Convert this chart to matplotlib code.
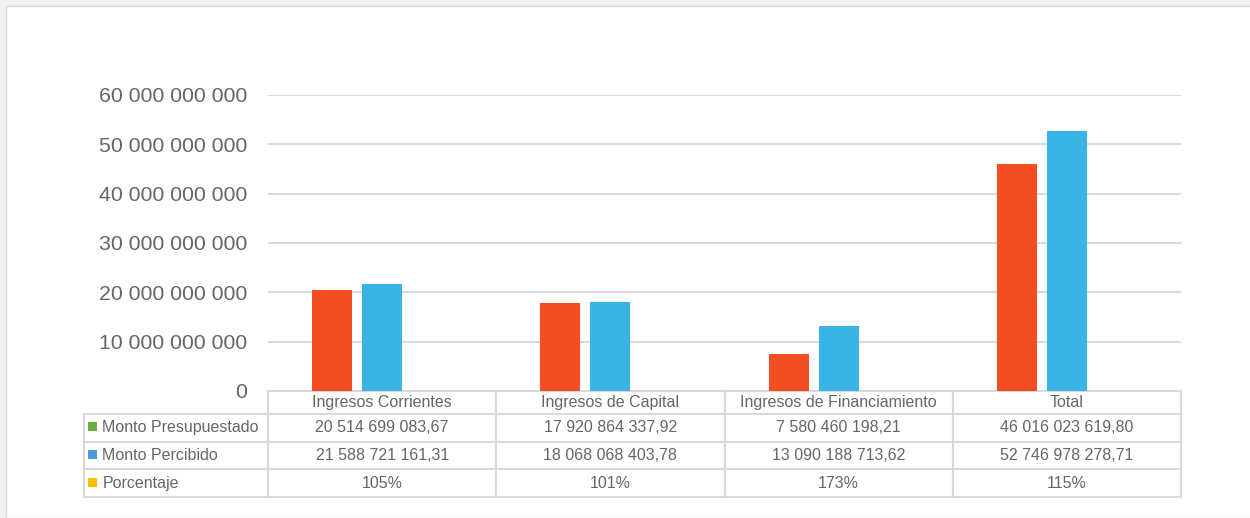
import numpy as np
import matplotlib.pyplot as plt
from matplotlib.patches import Rectangle

plt.rcParams['font.family'] = ['Liberation Sans', 'DejaVu Sans']

categorias = ['Ingresos Corrientes', 'Ingresos de Capital',
              'Ingresos de Financiamiento', 'Total']
presupuestado = [20514699083.67, 17920864337.92, 7580460198.21, 46016023619.80]
percibido = [21588721161.31, 18068068403.78, 13090188713.62, 52746978278.71]
porcentaje = [1.05, 1.01, 1.73, 1.15]

txt_presup = ['20 514 699 083,67', '17 920 864 337,92', '7 580 460 198,21', '46 016 023 619,80']
txt_percib = ['21 588 721 161,31', '18 068 068 403,78', '13 090 188 713,62', '52 746 978 278,71']
txt_porc = ['105%', '101%', '173%', '115%']
filas = ['Monto Presupuestado', 'Monto Percibido', 'Porcentaje']
colores_leyenda = ['#6BAE3F', '#4C9BDB', '#FFC000']

gris = '#666666'
borde = '#D9D9D9'

fig = plt.figure(figsize=(12.5, 5.18), dpi=100, facecolor='#F2F1F1')
fig.patches.append(Rectangle((6 / 1250, 0), 1, 1 - 6 / 518, transform=fig.transFigure,
                             facecolor='white', edgecolor='#DCDCDC', lw=1, zorder=-5))

ax = fig.add_axes([268 / 1250, 1 - 391 / 518, 913 / 1250, 296 / 518])
ax.set_facecolor('none')

x = np.arange(len(categorias))
w = 0.175
d = 0.219
ax.bar(x - d, presupuestado, w, color='#F24E22', zorder=3)
ax.bar(x, percibido, w, color='#3AB4E6', zorder=3)
ax.bar(x + d, porcentaje, w, color='#FFC000', zorder=3)

ax.set_xlim(-0.5, 3.5)
ax.set_ylim(0, 60e9)
ticks = np.arange(0, 60e9 + 1, 10e9)
ax.set_yticks(ticks)
ax.set_yticklabels(['{:,.0f}'.format(t).replace(',', ' ') for t in ticks],
                   fontsize=15.3, color=gris)
ax.tick_params(axis='y', length=0, pad=15)
ax.set_xticks([])
ax.grid(axis='y', color=borde, lw=1.5, zorder=0)
for s in ax.spines.values():
    s.set_visible(False)

# tabla de datos (primera columna = nombres de las series)
datos = [[f] + v for f, v in zip(filas, [txt_presup, txt_percib, txt_porc])]
tabla = ax.table(cellText=datos, colLabels=[''] + categorias,
                 colWidths=[184] + [228.25] * 4, cellLoc='center',
                 bbox=[-184 / 913, -106 / 296, 1097 / 913, 106 / 296])
tabla.auto_set_font_size(False)
for (r, c), cell in tabla.get_celld().items():
    cell.set_edgecolor(borde)
    cell.set_linewidth(1.5)
    cell.set_height(23 if r == 0 else 27.7)
    cell.get_text().set_color(gris)
    cell.get_text().set_fontsize(11.5)
    if c == 0:
        cell._loc = 'left'
        cell.get_text().set_horizontalalignment('left')
    if r == 0 and c == 0:
        cell.visible_edges = ''

# cuadros de leyenda en las etiquetas de fila
fila_y = [428, 456, 484]
for yy, col in zip(fila_y, colores_leyenda):
    fig.patches.append(Rectangle((88 / 1250, 1 - (yy + 3) / 518), 9 / 1250, 9 / 518,
                                 transform=fig.transFigure, facecolor=col,
                                 edgecolor='none', zorder=5))

fig.savefig('out.png', dpi=100, facecolor=fig.get_facecolor())
